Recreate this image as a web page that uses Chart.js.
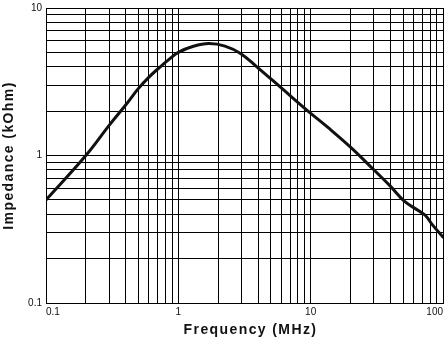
<!DOCTYPE html>
<html>
<head>
<meta charset="utf-8">
<script src="https://cdn.jsdelivr.net/npm/chart.js@4.4.1/dist/chart.umd.min.js"></script>
<style>
  html, body { margin: 0; padding: 0; background: #fff; }
  canvas { display: block; }
</style>
</head>
<body>
<canvas id="chart" width="448" height="344"></canvas>
<script>
// Impedance vs frequency of the ferrite bead
const freqMHz = [0.1, 0.2, 0.3, 0.4, 0.5, 0.6, 0.72, 0.85, 1.0, 1.3, 1.7, 2.25, 2.95, 3.9, 6.0, 9.3, 13.5, 20, 30, 40, 51, 66, 74, 83, 100];
const impedanceKOhm = [0.5, 1.0, 1.6, 2.2, 2.85, 3.4, 3.95, 4.48, 5.0, 5.5, 5.74, 5.52, 4.92, 4.01, 2.87, 2.04, 1.55, 1.14, 0.8, 0.62, 0.49, 0.42, 0.39, 0.34, 0.28];

// Labelled decades on each axis
const xDecades = [0.1, 1, 10, 100];
const xTickLabels = ['0.1', '1', '10', '100'];
const yDecades = [0.1, 1, 10];
const yTickLabels = ['0.1', '1', '10'];

// Grid lines at 1..9 of every decade
function gridValues(decades) {
  const out = [];
  for (let i = 0; i < decades.length - 1; i++) {
    for (let m = 1; m < 10; m++) out.push(+(decades[i] * m).toPrecision(4));
  }
  out.push(decades[decades.length - 1]);
  return out;
}

function decadeLabel(decades, labels) {
  return function (value) {
    const i = decades.findIndex(d => Math.abs(d - value) / d < 1e-6);
    return i >= 0 ? labels[i] : '';
  };
}

// Axis titles are set with a little extra tracking; the x title sits slightly right of centre
const titleTracking = {
  id: 'titleTracking',
  beforeDraw(chart) {
    Object.values(chart.scales).forEach(s => {
      if (s._tracked) return;
      const draw = s.drawTitle.bind(s);
      const shift = s.isHorizontal() ? 6 : 0;
      s.drawTitle = function () {
        const ctx = this.ctx;
        ctx.save();
        ctx.letterSpacing = '1.4px';
        ctx.translate(shift, 0);
        draw();
        ctx.restore();
      };
      s._tracked = true;
    });
  }
};

const tickFont = { family: '"Liberation Sans", Arial, sans-serif', size: 10, lineHeight: 0.8 };
const titleFont = { family: '"Liberation Sans", Arial, sans-serif', size: 14, weight: 'bold', lineHeight: 1.2 };

new Chart(document.getElementById('chart'), {
  type: 'line',
  data: {
    datasets: [{
      data: freqMHz.map((f, i) => ({ x: f, y: impedanceKOhm[i] })),
      borderColor: '#111',
      borderWidth: 3,
      borderCapStyle: 'round',
      borderJoinStyle: 'round',
      pointRadius: 0,
      fill: false,
      tension: 0.4
    }]
  },
  options: {
    responsive: false,
    animation: false,
    events: [],
    layout: { padding: { top: 4, right: 2, left: 0, bottom: 0 } },
    plugins: { legend: { display: false }, tooltip: { enabled: false } },
    scales: {
      x: {
        type: 'logarithmic',
        min: 0.1,
        max: 100,
        afterBuildTicks: axis => { axis.ticks = gridValues(xDecades).map(v => ({ value: v })); },
        afterFit: axis => { axis.height = 41; },
        grid: { color: '#000', lineWidth: 1, drawTicks: false },
        border: { display: true, color: '#000', width: 1 },
        ticks: {
          autoSkip: false,
          maxRotation: 0,
          align: 'inner',
          padding: 5,
          color: '#111',
          font: tickFont,
          callback: decadeLabel(xDecades, xTickLabels)
        },
        title: {
          display: true,
          text: 'Frequency (MHz)',
          color: '#111',
          font: titleFont,
          padding: { top: 0, bottom: 5.5 }
        }
      },
      y: {
        type: 'logarithmic',
        min: 0.1,
        max: 10,
        afterBuildTicks: axis => { axis.ticks = gridValues(yDecades).map(v => ({ value: v })); },
        afterFit: axis => { axis.width = 46; },
        grid: { color: '#000', lineWidth: 1, drawTicks: false },
        border: { display: true, color: '#000', width: 1 },
        ticks: {
          autoSkip: false,
          padding: 4,
          color: '#111',
          font: tickFont,
          callback: decadeLabel(yDecades, yTickLabels)
        },
        title: {
          display: true,
          text: 'Impedance (kOhm)',
          color: '#111',
          font: titleFont,
          padding: { top: 1, bottom: 0 }
        }
      }
    }
  },
  plugins: [titleTracking]
});
</script>
</body>
</html>
